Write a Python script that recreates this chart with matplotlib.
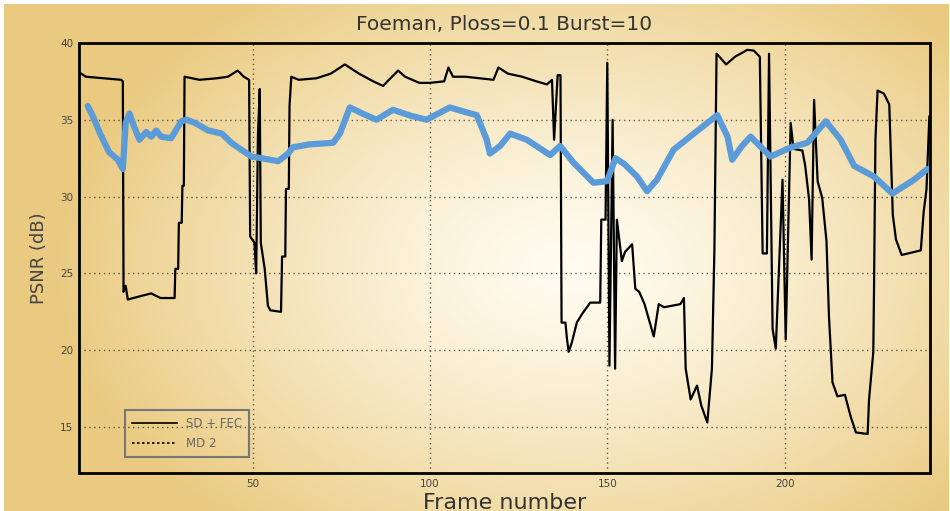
import matplotlib
matplotlib.use('Agg')
import matplotlib.pyplot as plt
from matplotlib.lines import Line2D
import numpy as np

plt.rcParams['font.family'] = ['DejaVu Sans']

# SD + FEC (black staircase curve)
sd_frames = [1, 3, 8, 12.9, 13.4, 13.6, 14.2, 14.8, 18, 21.4, 24, 28, 28.2, 29, 29.2, 30,
             30.2, 30.6, 30.8, 35, 40, 43, 45.8, 47.5, 49, 49.3, 50.5, 51, 51.5, 52, 52.3,
             53.4, 54.3, 55, 58, 58.3, 59.2, 59.4, 60.2, 60.4, 60.9, 63, 68, 72, 76, 80, 84,
             86.8, 88, 91, 93, 97, 100, 104, 105.2, 106.5, 110, 117.9, 119.3, 122, 126, 130,
             133, 134.4, 135, 136, 136.8, 137.1, 138.2, 138.6, 139.1, 140, 141.4, 143, 145.2,
             148, 148.3, 149.5, 150, 150.6, 151.5, 152.2, 152.7, 154.1, 155, 157, 157.9, 159,
             160.5, 163.1, 164.5, 166, 170.6, 171.6, 172.1, 173.5, 175.3, 176.5, 178.2, 179.5,
             180.2, 180.8, 182, 183.5, 186, 189.5, 191.3, 193, 193.8, 195, 195.6, 196.6, 197.5,
             198.9, 199.4, 200.3, 201.7, 202.5, 205, 205.8, 206.9, 207.6, 208.3, 209.3, 210.6,
             211.8, 212.5, 213.5, 214.9, 217, 218.6, 220.1, 223.4, 223.8, 225, 225.2, 225.6,
             226.2, 228, 229.5, 230.5, 231.4, 233, 238.4, 239.2, 240, 240.8]
sd_psnr = [38.1, 37.8, 37.7, 37.6, 37.5, 23.8, 24.2, 23.3, 23.5, 23.7, 23.4, 23.4, 25.3, 25.3,
           28.3, 28.3, 30.7, 30.7, 37.8, 37.6, 37.7, 37.8, 38.2, 37.8, 37.6, 27.4, 27.0, 25.0,
           34.0, 37.0, 27.0, 25.3, 22.9, 22.6, 22.5, 26.1, 26.1, 30.5, 30.5, 35.9, 37.8, 37.6,
           37.7, 38.0, 38.6, 38.0, 37.5, 37.2, 37.5, 38.2, 37.8, 37.4, 37.4, 37.5, 38.4, 37.8,
           37.8, 37.6, 38.4, 38.0, 37.8, 37.5, 37.3, 37.6, 33.7, 37.9, 37.9, 21.8, 21.8, 20.8,
           19.9, 20.5, 21.8, 22.4, 23.1, 23.1, 28.5, 28.5, 38.7, 19.0, 35.0, 18.8, 28.5, 25.8,
           26.4, 26.9, 24.0, 23.8, 23.0, 20.9, 23.0, 22.8, 23.0, 23.4, 18.8, 16.8, 17.7, 16.4,
           15.3, 18.8, 26.6, 39.3, 39.0, 38.6, 39.1, 39.55, 39.5, 39.1, 26.3, 26.3, 39.3, 21.4,
           20.1, 28.1, 31.1, 20.7, 34.8, 33.1, 33.0, 32.0, 29.8, 25.9, 36.3, 31.0, 29.9, 27.1,
           22.2, 17.9, 17.0, 17.1, 15.7, 14.65, 14.55, 16.8, 19.9, 24.0, 33.7, 36.9, 36.7, 36.0,
           28.8, 27.2, 26.2, 26.5, 29.0, 30.5, 35.2]

# MD 2 (thick blue curve)
md_frames = [3.5, 5, 7, 9.5, 12, 13.4, 14.2, 15.3, 16.5, 18.1, 20, 21.4, 22.8, 24.2, 27, 29.9,
             31.4, 33.7, 37.5, 41.3, 44, 46.8, 49.7, 52.5, 57.2, 60, 61.3, 66, 72.7, 74.6, 77.4,
             81, 84.9, 89.6, 94, 99, 105.6, 110, 113.2, 116, 116.9, 119.8, 122.6, 127.3, 133.9,
             136.7, 140.5, 146.1, 149.9, 152.3, 154.9, 158.4, 161.2, 164, 168.7, 174.4, 181,
             183.9, 185.2, 188, 190.4, 193, 196, 201.7, 206.4, 211.6, 215.8, 219.6, 225.2,
             230.4, 236.5, 240.3]
md_psnr = [35.9, 35.2, 34.1, 32.9, 32.4, 31.8, 34.8, 35.4, 34.6, 33.7, 34.2, 33.9, 34.3, 33.9,
           33.8, 34.9, 35.0, 34.8, 34.3, 34.1, 33.5, 33.05, 32.6, 32.5, 32.3, 32.8, 33.2, 33.4,
           33.5, 34.1, 35.8, 35.4, 35.0, 35.65, 35.3, 35.0, 35.8, 35.5, 35.3, 33.7, 32.8, 33.3,
           34.1, 33.7, 32.7, 33.3, 32.2, 30.9, 31.0, 32.5, 32.1, 31.3, 30.35, 31.1, 33.05, 34.1,
           35.3, 33.9, 32.4, 33.3, 33.9, 33.3, 32.6, 33.2, 33.5, 34.9, 33.7, 32.0, 31.3, 30.2,
           31.1, 31.8]

x_ticks = [50, 100, 150, 200]
y_ticks = [15, 20, 25, 30, 35, 40]

fig = plt.figure(figsize=(9.5, 5.11), dpi=100)

# warm radial gradient background
bg = fig.add_axes([0.004, 0, 0.994, 0.992])
bg.set_axis_off()
gx, gy = np.meshgrid(np.linspace(0, 1, 400), np.linspace(0, 1, 220))
r = np.sqrt(((gx - 0.6) / 0.55) ** 2 + ((gy - 0.52) / 0.68) ** 2)
t = np.clip(r, 0, 1) ** 1.3
c_in = np.array([255, 252, 240]) / 255
c_out = np.array([234, 202, 128]) / 255
img = c_in[None, None, :] * (1 - t[..., None]) + c_out[None, None, :] * t[..., None]
bg.imshow(img, aspect='auto', extent=(0, 1, 0, 1), origin='upper')

ax = fig.add_axes([0.083, 0.074, 0.896, 0.842])
ax.patch.set_alpha(0)

ax.plot(sd_frames, sd_psnr, color='black', linewidth=1.6)
ax.plot(md_frames, md_psnr, color='#5b9bd8', linewidth=4.5, solid_capstyle='round',
        solid_joinstyle='round')

ax.set_xlim(1, 241)
ax.set_ylim(12, 40)
ax.set_xticks(x_ticks)
ax.set_yticks(y_ticks)
ax.tick_params(labelsize=7.5, colors='#444444', length=0, pad=4)
ax.grid(True, color='#222222', linestyle=(0, (1, 2.5)), linewidth=1, alpha=0.7)
for s in ax.spines.values():
    s.set_linewidth(2)

ax.set_title('Foeman, Ploss=0.1 Burst=10', fontsize=14.5, color='#333333', pad=9)
ax.set_xlabel('Frame number', fontsize=16, color='#333333', labelpad=3)
ax.set_ylabel('PSNR (dB)', fontsize=13, color='#444444', labelpad=9)

handles = [Line2D([], [], color='black', linewidth=1.2),
           Line2D([], [], color='black', linewidth=1.2, linestyle=(0, (1.5, 1.5)))]
leg = ax.legend(handles, ['SD + FEC', 'MD 2'], loc='lower left',
                bbox_to_anchor=(0.054, 0.037), borderaxespad=0, fontsize=8.5,
                fancybox=False, facecolor='none', framealpha=1, edgecolor='#777777',
                handlelength=3.8, borderpad=0.6, labelspacing=0.6)
leg.get_frame().set_linewidth(1.5)
for txt in leg.get_texts():
    txt.set_color('#666666')

fig.savefig('out.png', dpi=100)
